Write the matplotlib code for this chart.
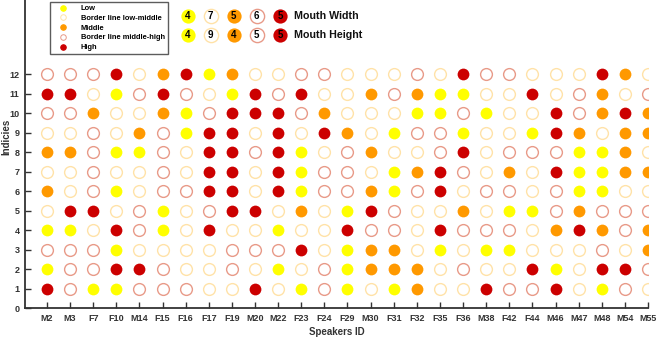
import matplotlib
matplotlib.use("Agg")
import matplotlib.pyplot as plt
from matplotlib.lines import Line2D

plt.rcParams['font.family'] = ['Liberation Sans', 'DejaVu Sans']
plt.rcParams['font.weight'] = 'bold'

speakers = ["M2", "M3", "F7", "F10", "M14", "F15", "F16", "F17", "F19",
            "M20", "M22", "F23", "F24", "F29", "M30", "F31", "F32", "F35",
            "F36", "M38", "F42", "F44", "M46", "M47", "M48", "M54", "M55"]
indices = list(range(1, 13))

# level codes per index (row 1 .. row 12), one entry per speaker
row1 = ["H", "MH", "L", "L", "MH", "MH", "MH", "LM", "LM",
        "H", "LM", "L", "MH", "L", "LM", "L", "M", "LM",
        "LM", "H", "MH", "MH", "H", "LM", "L", "MH", "LM"]
row2 = ["L", "MH", "MH", "H", "H", "MH", "LM", "LM", "MH",
        "LM", "L", "LM", "MH", "L", "M", "M", "M", "LM",
        "MH", "LM", "LM", "H", "L", "LM", "H", "H", "MH"]
row3 = ["MH", "MH", "MH", "L", "LM", "LM", "LM", "LM", "MH",
        "MH", "MH", "H", "LM", "L", "M", "M", "LM", "L",
        "LM", "L", "L", "LM", "LM", "LM", "MH", "LM", "M"]
row4 = ["L", "L", "LM", "H", "MH", "L", "LM", "H", "LM",
        "LM", "L", "LM", "LM", "H", "MH", "MH", "LM", "H",
        "MH", "MH", "MH", "LM", "M", "H", "M", "MH", "M"]
row5 = ["LM", "H", "H", "LM", "MH", "L", "LM", "MH", "H",
        "H", "LM", "M", "LM", "L", "H", "MH", "LM", "LM",
        "M", "LM", "L", "L", "MH", "M", "MH", "MH", "MH"]
row6 = ["M", "LM", "MH", "L", "LM", "MH", "MH", "H", "H",
        "LM", "H", "L", "MH", "MH", "M", "L", "MH", "H",
        "LM", "MH", "MH", "LM", "MH", "L", "L", "LM", "LM"]
row7 = ["LM", "LM", "MH", "LM", "LM", "MH", "LM", "H", "H",
        "LM", "H", "L", "MH", "MH", "LM", "L", "M", "H",
        "MH", "LM", "M", "LM", "H", "L", "L", "M", "M"]
row8 = ["M", "M", "MH", "L", "L", "MH", "LM", "H", "H",
        "MH", "H", "L", "LM", "MH", "M", "LM", "LM", "MH",
        "H", "LM", "MH", "MH", "MH", "L", "L", "M", "LM"]
row9 = ["LM", "LM", "MH", "LM", "M", "MH", "L", "H", "H",
        "LM", "H", "LM", "H", "M", "LM", "L", "MH", "MH",
        "L", "LM", "LM", "L", "H", "M", "LM", "M", "M"]
row10 = ["MH", "MH", "M", "LM", "LM", "M", "L", "MH", "H",
         "H", "H", "MH", "M", "LM", "LM", "LM", "L", "L",
         "MH", "L", "LM", "LM", "H", "MH", "M", "H", "M"]
row11 = ["H", "H", "LM", "L", "MH", "H", "MH", "LM", "L",
         "H", "MH", "H", "LM", "LM", "M", "MH", "M", "L",
         "L", "LM", "LM", "H", "LM", "MH", "M", "LM", "MH"]
row12 = ["MH", "MH", "MH", "H", "LM", "M", "H", "L", "M",
         "LM", "LM", "MH", "MH", "LM", "LM", "LM", "MH", "LM",
         "H", "MH", "MH", "LM", "LM", "LM", "H", "M", "LM"]
rows = [row1, row2, row3, row4, row5, row6, row7, row8, row9, row10, row11, row12]

level_codes = ["L", "LM", "M", "MH", "H"]
level_names = ["Low", "Border line low-middle", "Middle", "Border line middle-high", "High"]

# summary counts (legend on the right)
summary_labels = ["Mouth Width", "Mouth Height"]
width_counts = [4, 7, 5, 6, 5]
height_counts = [4, 9, 4, 5, 5]

styles = {
    "L":  dict(fc="#FFFF00", ec="#FFFF00", lw=0.0),
    "LM": dict(fc="white",   ec="#FFE2A8", lw=1.0),
    "M":  dict(fc="#FF9900", ec="#FF9900", lw=0.0),
    "MH": dict(fc="white",   ec="#E89A88", lw=1.0),
    "H":  dict(fc="#CC0000", ec="#CC0000", lw=0.0),
}

fig = plt.figure(figsize=(6.58, 3.47), dpi=100)
ax = fig.add_axes([25/658, 39/347, 623/658, 308/347])

xpos = list(range(1, len(speakers) + 1))
for code in level_codes:
    xs, ys = [], []
    for r, row in zip(indices, rows):
        for x, c in zip(xpos, row):
            if c == code:
                xs.append(x)
                ys.append(r)
    st = styles[code]
    ax.scatter(xs, ys, s=72, facecolors=st["fc"], edgecolors=st["ec"],
               linewidths=st["lw"], zorder=3)

ax.set_xlim(0.05, 27)
ax.set_ylim(0, 15.8)
ax.set_xticks(xpos)
ax.set_xticklabels(speakers)
ax.set_yticks(range(0, 13))
for s in ["top", "right"]:
    ax.spines[s].set_visible(False)
for s in ["left", "bottom"]:
    ax.spines[s].set_color("#333333")
    ax.spines[s].set_linewidth(1.3)
ax.tick_params(direction="in", length=4, width=1.0, color="#333333",
               labelsize=6.5, labelcolor="#333333", pad=4)
for lab in ax.get_xticklabels() + ax.get_yticklabels():
    lab.set_fontweight("bold")
ax.set_xlabel("Speakers ID", fontsize=7, fontweight="bold", color="#333333", labelpad=3)
ax.set_ylabel("Indicies", fontsize=7, fontweight="bold", color="#333333")
ax.yaxis.set_label_coords(-0.022, 0.555)

# left legend
handles = []
for code, name in zip(level_codes, level_names):
    st = styles[code]
    handles.append(Line2D([], [], linestyle="none", marker="o", markersize=4,
                          markerfacecolor=st["fc"], markeredgecolor=st["ec"],
                          markeredgewidth=0.7, label=name))
leg = fig.legend(handles=handles, loc="upper left",
                 bbox_to_anchor=(50/658, 1 - 2/347), fontsize=5.4,
                 frameon=True, fancybox=False, edgecolor="#333333",
                 labelspacing=0.33, handletextpad=1.1, borderpad=0.4,
                 handlelength=2.6, borderaxespad=0)
leg.get_frame().set_linewidth(1.0)
for t in leg.get_texts():
    t.set_fontweight("bold")

# right summary legend
for yv, counts, lbl in zip([15, 14], [width_counts, height_counts], summary_labels):
    for k, (code, n) in enumerate(zip(level_codes, counts)):
        st = styles[code]
        xv = 7.08 + k
        ax.scatter([xv], [yv], s=105, facecolors=st["fc"], edgecolors=st["ec"],
                   linewidths=st["lw"], zorder=3, clip_on=False)
        ax.text(xv, yv, str(n), ha="center", va="center", fontsize=7,
                fontweight="bold", color="black", zorder=4)
    ax.text(11.7, yv, lbl, ha="left", va="center", fontsize=7.7,
            fontweight="bold", color="#111111")

fig.savefig("out.png", dpi=100)
